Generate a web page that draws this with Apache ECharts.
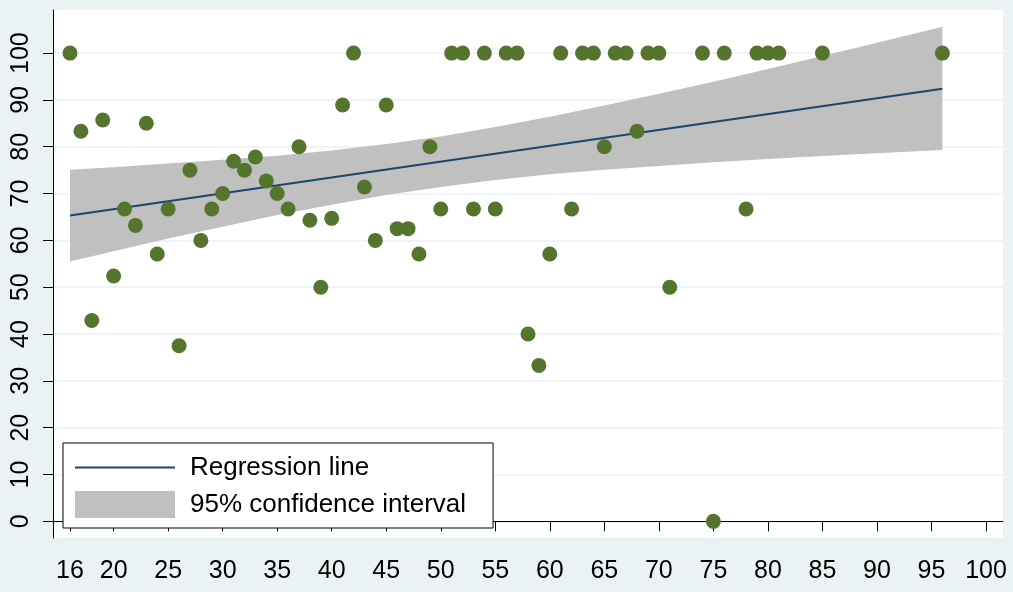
<!DOCTYPE html>
<html>
<head>
<meta charset="utf-8">
<script src="https://cdn.jsdelivr.net/npm/echarts@6/dist/echarts.min.js"></script>
<style>
  html, body { margin: 0; padding: 0; background: #EAF2F3; }
  #chart { width: 1013px; height: 592px; }
</style>
</head>
<body>
<div id="chart"></div>
<script>
// Scatter points (x, y)
const pointX = [16,17,18,19,20,21,22,23,24,25,26,27,28,29,30,31,32,33,34,35,36,37,38,39,40,41,42,43,44,45,46,47,48,49,50,51,52,53,54,55,56,57,58,59,60,61,62,63,64,65,66,67,68,69,70,71,74,75,76,78,79,80,81,85,96];
const pointY = [100,83.3,42.9,85.7,52.4,66.7,63.2,85,57.1,66.7,37.5,75,60,66.7,70,76.9,75,77.8,72.7,70,66.7,80,64.3,50,64.7,88.9,100,71.4,60,88.9,62.5,62.5,57.1,80,66.7,100,100,66.7,100,66.7,100,100,40,33.3,57.1,100,66.7,100,100,80,100,100,83.3,100,100,50,100,0,100,66.7,100,100,100,100,100];

// Regression line end points
const lineX = [16, 96];
const lineY = [65.3, 92.4];

// 95% confidence band
const bandX  = [16,20,25,30,35,40,45,50,55,60,65,70,75,80,85,90,96];
const bandLo = [55.5,57.7,60.4,62.9,65.4,67.6,69.7,71.4,72.9,74.1,75.1,75.9,76.7,77.4,78.0,78.6,79.3];
const bandHi = [75.1,75.6,76.4,77.2,78.1,79.2,80.6,82.2,84.2,86.4,88.8,91.3,93.9,96.6,99.4,102.2,105.6];

// Tick values
const xTicks = [16,20,25,30,35,40,45,50,55,60,65,70,75,80,85,90,95,100];
const yTicks = [0,10,20,30,40,50,60,70,80,90,100];

const FONT = '"Liberation Sans", Arial, sans-serif';

const chart = echarts.init(document.getElementById('chart'));
chart.setOption({
  backgroundColor: '#EAF2F3',
  animation: false,
  grid: { left: 53, right: 10, top: 10, bottom: 54, show: true, backgroundColor: '#FFFFFF', borderWidth: 0 },
  legend: {
    orient: 'vertical',
    left: 63, top: 443,
    backgroundColor: '#FFFFFF',
    borderColor: '#000000', borderWidth: 1, borderRadius: 0,
    padding: [11, 27, 10, 11],
    itemWidth: 100, itemHeight: 27, itemGap: 10,
    textStyle: { fontFamily: FONT, fontSize: 26, color: '#000', lineHeight: 27, padding: [0, 0, 0, 10] },
    data: [
      { name: 'Regression line', itemStyle: { opacity: 0 } },
      { name: '95% confidence interval', icon: 'rect' }
    ]
  },
  xAxis: {
    type: 'value',
    min: 14.44, max: 101.56,
    axisLine: { show: true, lineStyle: { color: '#000', width: 1 } },
    axisTick: { show: true, length: 10, lineStyle: { color: '#000' }, customValues: xTicks },
    axisLabel: { customValues: xTicks, fontFamily: FONT, fontSize: 25, color: '#000', margin: 21 },
    splitLine: { show: false }
  },
  yAxis: {
    type: 'value',
    min: -3.56, max: 109.2,
    axisLine: { show: true, lineStyle: { color: '#000', width: 1 } },
    axisTick: { show: true, length: 10, lineStyle: { color: '#000' }, customValues: yTicks },
    axisLabel: { customValues: yTicks, rotate: 90, fontFamily: FONT, fontSize: 25, color: '#000', margin: 19 },
    splitLine: { show: true, lineStyle: { color: '#EAF2F3', width: 1.5 } }
  },
  series: [
    {
      name: '95% confidence interval',
      type: 'custom',
      z: 1,
      itemStyle: { color: '#C0C0C0' },
      data: bandX.map((x, i) => [x, bandLo[i], bandHi[i]]),
      encode: { x: 0, y: [1, 2] },
      renderItem: function (params, api) {
        if (params.dataIndex !== 0) return null;
        const top = bandX.map((x, i) => api.coord([x, bandHi[i]]));
        const bot = bandX.map((x, i) => api.coord([x, bandLo[i]])).reverse();
        return { type: 'polygon', shape: { points: top.concat(bot) }, style: { fill: '#C0C0C0' } };
      }
    },
    {
      name: 'Regression line',
      type: 'line',
      z: 2,
      symbol: 'none',
      color: '#1A476F',
      lineStyle: { color: '#1A476F', width: 2 },
      data: lineX.map((x, i) => [x, lineY[i]])
    },
    {
      name: 'points',
      type: 'scatter',
      z: 3,
      symbolSize: 15,
      itemStyle: { color: '#55752F', opacity: 1 },
      data: pointX.map((x, i) => [x, pointY[i]])
    }
  ]
});
</script>
</body>
</html>
